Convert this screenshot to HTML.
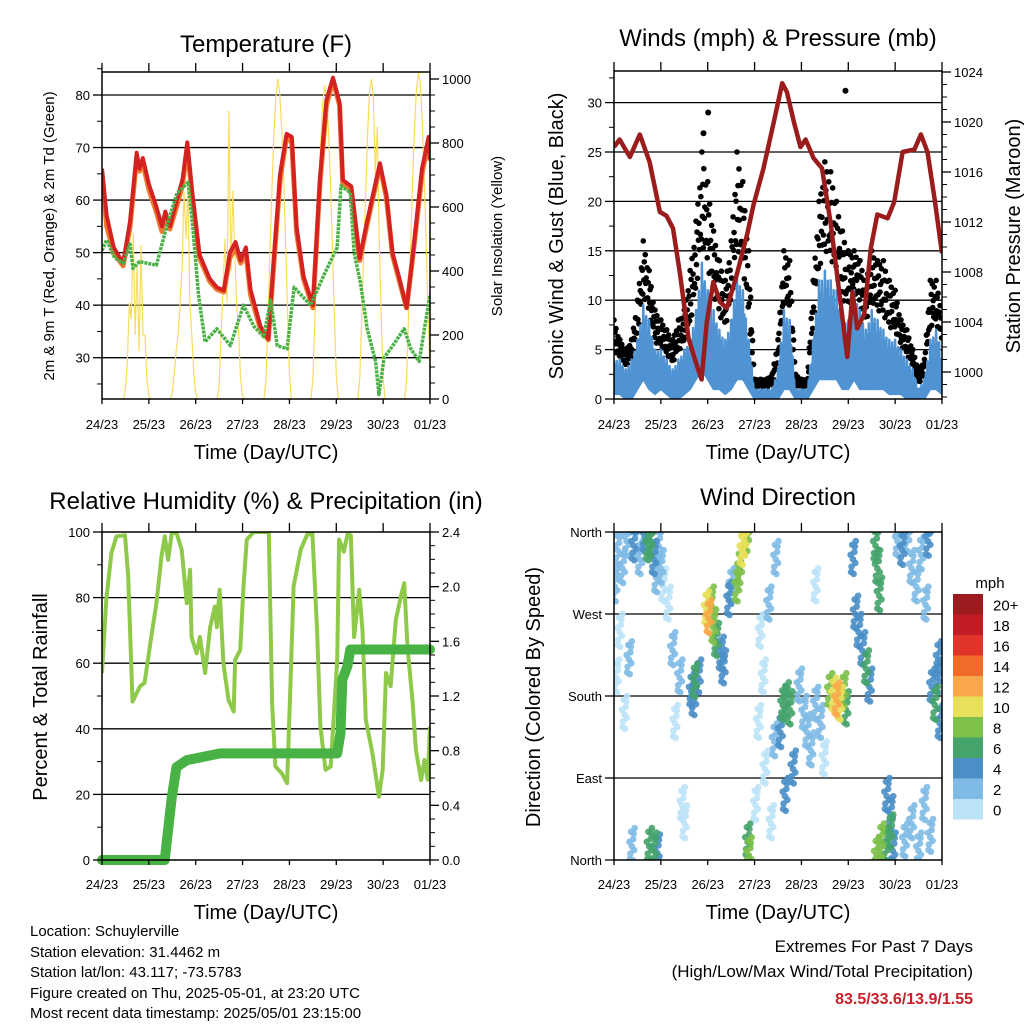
<!DOCTYPE html>
<html><head><meta charset="utf-8"><title>Weather Station Charts</title>
<style>
html,body{margin:0;padding:0;background:#fff;}
svg{display:block;font-family:"Liberation Sans",sans-serif;}
</style></head>
<body>
<svg id="chart" width="1024" height="1024" viewBox="0 0 1024 1024" xmlns="http://www.w3.org/2000/svg">
<rect x="0" y="0" width="1024" height="1024" fill="#fff"/>
<text x="266" y="52" font-size="24" text-anchor="middle">Temperature (F)</text>
<text x="778" y="46" font-size="24" text-anchor="middle">Winds (mph) &amp; Pressure (mb)</text>
<text x="266" y="509" font-size="24" text-anchor="middle">Relative Humidity (%) &amp; Precipitation (in)</text>
<text x="778" y="505" font-size="24" text-anchor="middle">Wind Direction</text>
<text x="266" y="459" font-size="20" text-anchor="middle">Time (Day/UTC)</text>
<text x="778" y="459" font-size="20" text-anchor="middle">Time (Day/UTC)</text>
<text x="266" y="919" font-size="20" text-anchor="middle">Time (Day/UTC)</text>
<text x="778" y="919" font-size="20" text-anchor="middle">Time (Day/UTC)</text>
<text transform="translate(54,236) rotate(-90)" font-size="15" text-anchor="middle">2m &amp; 9m T (Red, Orange) &amp; 2m Td (Green)</text>
<text transform="translate(502,236) rotate(-90)" font-size="15" text-anchor="middle">Solar Insolation (Yellow)</text>
<text transform="translate(563,236) rotate(-90)" font-size="20" text-anchor="middle">Sonic Wind &amp; Gust (Blue, Black)</text>
<text transform="translate(1020,236) rotate(-90)" font-size="20" text-anchor="middle">Station Pressure (Maroon)</text>
<text transform="translate(47,697) rotate(-90)" font-size="20" text-anchor="middle">Percent &amp; Total Rainfall</text>
<text transform="translate(540,697) rotate(-90)" font-size="20" text-anchor="middle">Direction (Colored By Speed)</text>
<g font-size="15">
<text x="30" y="936">Location: Schuylerville</text>
<text x="30" y="957">Station elevation: 31.4462 m</text>
<text x="30" y="977">Station lat/lon: 43.117; -73.5783</text>
<text x="30" y="998">Figure created on Thu, 2025-05-01, at 23:20 UTC</text>
<text x="30" y="1018">Most recent data timestamp: 2025/05/01 23:15:00</text>
</g>
<g font-size="17" text-anchor="end">
<text x="973" y="952">Extremes For Past 7 Days</text>
<text x="973" y="977">(High/Low/Max Wind/Total Precipitation)</text>
<text x="973" y="1004" font-size="16" font-weight="bold" fill="#c8202a">83.5/33.6/13.9/1.55</text>
</g>
<text x="990" y="588" font-size="15" text-anchor="middle">mph</text>
</svg>
<script>
// ---------- data ----------
const dayLabels = ["24/23","25/23","26/23","27/23","28/23","29/23","30/23","01/23"];
const tempT = [0,0.1,0.25,0.45,0.6,0.74,0.8,0.87,1.0,1.15,1.28,1.35,1.45,1.6,1.72,1.82,1.92,2.08,2.3,2.45,2.6,2.73,2.85,2.96,3.07,3.17,3.38,3.55,3.66,3.8,3.94,4.05,4.15,4.3,4.5,4.65,4.79,4.93,5.07,5.14,5.32,5.5,5.65,5.93,6.07,6.2,6.35,6.5,6.65,6.83,6.97,7.0];
const tempRed = [66,57,51,48,56,69,66,68,63,59,55,57.8,55,60,64,71,62,49.6,45,43.4,42.8,50,52,48.5,51,43,36,33.6,48,65,72.6,72,55,45.5,40,64,79,83.3,78.5,63.8,62.6,48.9,55.6,67,61,50,45,39.5,51,66,72,67.8];
const tempOrange = [65,55,50,47.5,55,68,65.5,67,62,58,54,57,54.5,59,63,70,61,49,44.5,43,42.5,49,51,48,50,42,35.5,33.4,47,64,72,71,54,45,39.5,63,78,82.8,78,63,62,48.5,55,66.5,60.5,49.5,44.5,39.5,50.5,65,71.5,67.5];
const dewT = [0,0.1,0.27,0.45,0.6,0.66,0.8,1.16,1.38,1.6,1.84,1.95,2.06,2.2,2.45,2.74,3.02,3.24,3.45,3.6,3.74,3.95,4.1,4.45,4.74,5.02,5.1,5.3,5.38,5.52,5.66,5.84,5.91,6.02,6.16,6.45,6.59,6.77,6.88,7.0];
const dewV = [50.4,52.4,49,48,51.6,47,48.3,47.6,55,61.3,63.4,53.6,42,33,35.5,32.3,40,36,34,41,32.3,31.7,43.4,40,45.8,51,62.7,61.4,50,44,35.5,29.3,23,30,31.7,35.5,31.7,29.3,35.5,42];
const solarHours = [10,11,12,13,14,15,16,17,18,19,20,21,22,23,24];
const solarDay0 = [0,30,120,300,250,520,200,420,150,480,200,200,60,10,0];
const solarDay1 = [0,20,80,150,200,300,400,650,500,660,300,200,80,20,0];
const solarDay2 = [0,40,200,350,500,300,900,400,650,450,300,200,60,10,0];
const solarDay3 = [0,60,250,450,650,820,940,1000,960,850,700,500,280,80,0];
const solarDay4 = [0,60,240,440,640,800,920,980,950,840,680,480,270,70,0];
const solarDay5 = [0,60,250,450,640,820,960,1000,940,700,850,500,260,70,0];
const solarDay6 = [0,60,260,460,660,840,960,1020,990,870,700,500,280,80,0];
const solarDays = [solarDay0,solarDay1,solarDay2,solarDay3,solarDay4,solarDay5,solarDay6];

const presT = [0,0.12,0.34,0.55,0.76,0.98,1.12,1.26,1.41,1.59,1.76,1.87,1.98,2.12,2.26,2.41,2.62,2.84,2.98,3.19,3.41,3.59,3.69,3.84,3.98,4.09,4.26,4.44,4.62,4.84,4.98,5.09,5.19,5.34,5.48,5.62,5.84,5.98,6.16,6.41,6.55,6.69,6.84,7.0];
const presV = [1018,1018.6,1017.2,1019,1016.8,1012.8,1012.5,1011.5,1007.8,1002.7,1000.6,999.4,1004,1007.2,1005.6,1005.1,1007.8,1011,1013.4,1016.3,1020,1023.1,1022.4,1020,1018,1018.6,1017.1,1016.3,1012,1005.4,1001.2,1006.4,1003.5,1004.6,1009.9,1012.6,1012.3,1013.6,1017.6,1017.8,1019,1017.6,1013.9,1009.5];
const windStep = 0.125;
const windHi = [4,4,3,4,6,9.5,8,5,5,4,3,4,5,6,9,13.8,11,9,7,6,8,12.8,11,6,1,1,1,1,3,9,8,1,1,1,6,12,13,12,11,8,8,11,9,7,9,8,7,6,6,5,4,3,1,2,6,7,5];
const windLo = [0.5,0.5,0,0,1,2,1,0.5,1,0.5,0,0,0.5,1,2,3,2,1,1,0.5,1,2,2,1,0,0,0,0,0,1,1,0,0,0,1,2,2,2,2,1,1,2,1,1,1,1,1,0.5,0.5,0.5,0,0,0,0,1,1,0.5];
const gust = [8,6,5,6,10,16,13,9,8,7,6,8,9,13,18,25,22,17,14,12,16,25,22,15,2,2,2,2.5,6,15,14,2.5,2,2,12,20,24,23,20,17,15,15,14,12,15,14,14,12,11,8,7,5,3,4,12,12,9];
const gustOutT = [1.91,2.01,4.94];
const gustOutV = [26.9,29,31.2];

const rhT = [0,0.09,0.2,0.31,0.49,0.56,0.65,0.81,0.91,1.02,1.16,1.27,1.34,1.41,1.49,1.59,1.7,1.81,1.88,1.91,2.02,2.09,2.2,2.31,2.41,2.45,2.51,2.59,2.7,2.81,2.84,2.95,3.02,3.09,3.24,3.56,3.63,3.7,3.84,3.95,4.02,4.09,4.24,4.38,4.49,4.59,4.66,4.77,4.88,5.02,5.06,5.16,5.24,5.31,5.38,5.49,5.56,5.63,5.77,5.91,5.99,6.06,6.16,6.27,6.38,6.45,6.52,6.63,6.7,6.81,6.88,6.95,7.0];
const rhV = [57,79,93.6,98.7,99,86.5,48.3,53,54,65,78.3,92.6,98.7,91.5,99.7,99.7,94.6,78.3,88.5,68,63,68,57,71,77.3,71,82.4,60,48.8,45.3,61,64,83.4,97.7,100,100,47.8,28.5,26.4,23.4,53,83.4,94.6,99.2,99.5,70,40.7,27.5,28.5,61,97.7,94,99.2,99,68,82.4,70,42.7,32.6,19.3,27.5,57,53,73.2,80.4,84.4,65,47.8,33.6,24.4,30.5,24.5,40.7];
const rainT = [0,1.34,1.38,1.49,1.59,1.81,2.52,5.02,5.09,5.1,5.13,5.24,5.3,7.0];
const rainV = [0,0,0.13,0.46,0.68,0.73,0.78,0.78,0.93,1.05,1.32,1.42,1.54,1.54];

const dirT = [0.02,0.05,0.08,0.12,0.18,0.22,0.27,0.32,0.38,0.42,0.55,0.65,0.72,0.78,0.85,0.9,0.95,1.0,1.05,0.75,0.85,0.92,1.15,1.25,1.3,1.4,1.45,1.5,1.65,1.72,1.8,1.7,1.97,2.02,2.07,2.12,2.18,2.28,2.33,2.45,2.5,2.62,2.68,2.73,2.78,2.83,2.88,2.85,3.02,3.08,3.12,3.18,3.22,3.3,3.35,3.42,3.45,3.55,3.6,3.67,3.75,3.82,3.65,3.95,4.05,4.12,4.2,4.3,4.4,4.48,4.3,4.6,4.68,4.75,4.82,4.9,4.95,5.15,5.22,5.3,5.38,5.45,5.1,5.58,5.62,5.66,5.6,5.7,5.8,5.9,5.95,5.82,5.9,6.05,6.15,6.25,6.35,6.45,6.55,6.65,6.7,6.2,6.35,6.5,6.62,6.75,6.78,6.85,6.9,6.95,6.92];
const dirD = [300,200,340,250,320,160,350,220,15,345,330,355,345,350,330,310,345,320,300,15,10,8,280,230,150,200,60,40,185,195,200,175,275,265,280,255,240,225,210,285,300,300,320,340,350,355,5,20,60,150,250,200,100,280,40,130,330,140,170,175,165,100,70,190,160,140,120,170,150,110,300,185,180,175,170,185,165,270,250,230,210,190,330,345,320,290,5,20,15,30,10,70,50,350,340,355,320,300,335,280,350,20,40,10,60,25,190,170,200,150,220];
const dirS = [2,1,3,1,2,1,3,2,2,4,3,4,6,7,4,3,3,2,1,7,6,4,1,2,1,2,1,1,5,6,5,4,10,12,9,8,6,5,4,4,3,8,9,10,11,8,8,7,1,1,1,1,1,2,1,2,2,4,6,7,6,4,4,2,3,2,3,2,3,1,1,9,11,12,10,8,6,5,5,4,6,4,4,7,6,6,8,9,7,6,5,4,4,3,4,2,3,2,3,2,4,3,2,3,2,3,5,6,5,4,4];

const speedColors = ["#bce3f7","#7fbbe6","#4a8fc8","#45a36c","#7dc04a","#e8e05a","#f8a84a","#f26a2a","#e0342a","#c21d24","#9b1b1e"];
const speedLabels = ["0","2","4","6","8","10","12","14","16","18","20+"];
const tempTicks = [30,40,50,60,70,80];
const solarTicks = [0,200,400,600,800,1000];
const windTicks = [0,5,10,15,20,25,30];
const presTicks = [1000,1004,1008,1012,1016,1020,1024];
const rhTicks = [0,20,40,60,80,100];
const rainTicks = ["0.0","0.4","0.8","1.2","1.6","2.0","2.4"];
const dirLabels = ["North","East","South","West","North"];
const dirTickVals = [0,90,180,270,360];

// ---------- helpers ----------
const NS = "http://www.w3.org/2000/svg";
const svg = document.getElementById("chart");
function mk(tag, attrs, parent){
  const e = document.createElementNS(NS, tag);
  for (const k in attrs) e.setAttribute(k, attrs[k]);
  (parent || svg).appendChild(e);
  return e;
}
function linear(d0,d1,r0,r1){ return v => r0 + (v-d0)/(d1-d0)*(r1-r0); }

const P1 = {x0:102,x1:430,y0:72,y1:399};
const P2 = {x0:614,x1:942,y0:71,y1:399};
const P3 = {x0:102,x1:430,y0:532,y1:860};
const P4 = {x0:614,x1:942,y0:532,y1:860};

const x1s = linear(0,7,P1.x0,P1.x1);
const x2s = linear(0,7,P2.x0,P2.x1);
const x3s = linear(0,7,P3.x0,P3.x1);
const x4s = linear(0,7,P4.x0,P4.x1);
const yTemp = linear(80,30,95,357.7);
const ySolar = linear(0,1000,399,79);
const yWind = linear(0,30,399,102.6);
const yPres = linear(1024,1000,72,372);
const yRH = linear(0,100,860,532);
const yRain = linear(0,2.4,860,532);
const yDir = linear(0,360,860,532);

function clip(id,P){
  const cp = mk("clipPath",{id:id});
  mk("rect",{x:P.x0,y:P.y0,width:P.x1-P.x0,height:P.y1-P.y0},cp);
}
clip("c1",P1); clip("c2",P2); clip("c3",P3); clip("c4",P4);

function hgrid(P, yvals, name){
  yvals.forEach(y=>{
    const l = mk("line",{x1:P.x0,x2:P.x1,y1:y,y2:y,stroke:"#000","stroke-width":1.3});
    
    
  });
}
function frameAndTicks(P, xs, labelY, name){
  for (let d=0; d<=7; d+=0.5){
    const x = xs(d);
    const major = Number.isInteger(d);
    const t = mk("line",{x1:x,x2:x,y1:P.y0,y2:P.y0-(major?9:0),stroke:"#000","stroke-width":1.3});
    
    
    const b = mk("line",{x1:x,x2:x,y1:P.y1,y2:P.y1+(major?5:0),stroke:"#000","stroke-width":1.3});
    
    
    if (major){
      const tx = mk("text",{x:x,y:labelY,"font-size":13,"text-anchor":"middle"});
      tx.textContent = dayLabels[d];
      
      
    }
  }
  const f = mk("rect",{x:P.x0,y:P.y0,width:P.x1-P.x0,height:P.y1-P.y0,fill:"none",stroke:"#000","stroke-width":1.5});
  
  
}
function yTicks(P, vals, labels, ys, side, minorVals){
  vals.forEach((v,i)=>{
    const y = ys(v);
    const x = side==="left"?P.x0:P.x1;
    const dx = side==="left"?-9:9;
    const t = mk("line",{x1:x,x2:x+dx,y1:y,y2:y,stroke:"#000","stroke-width":1.3});
    
    
    const tx = mk("text",{x: side==="left"?x-12:x+12, y:y+5,"font-size":13,"text-anchor":side==="left"?"end":"start"});
    tx.textContent = labels[i];
    
    
  });
  (minorVals||[]).forEach(v=>{
    const y = ys(v);
    const x = side==="left"?P.x0:P.x1;
    const dx = side==="left"?-5:5;
    const t = mk("line",{x1:x,x2:x+dx,y1:y,y2:y,stroke:"#000","stroke-width":1});
    
    
  });
}
function pathFrom(ts, vs, xs, ys){
  return ts.map((t,i)=>(i?"L":"M")+xs(t).toFixed(1)+","+ys(vs[i]).toFixed(1)).join("");
}

// ---------- Panel 1: temperature ----------
hgrid(P1, tempTicks.map(yTemp), "temp-gridline");
const g1 = mk("g",{"clip-path":"url(#c1)"});


solarDays.forEach((arr,k)=>{
  const ts = solarHours.map(h=>k+(h+1)/24);
  const p = mk("path",{d:pathFrom(ts,arr,x1s,ySolar),fill:"none",stroke:"#f8dc60","stroke-width":1.2},g1);
  
  
});
const orangeLine = mk("path",{d:pathFrom(tempT,tempOrange,x1s,yTemp),fill:"none",stroke:"#f07a30","stroke-width":5,"stroke-linejoin":"round"},g1);


const redLine = mk("path",{d:pathFrom(tempT,tempRed,x1s,yTemp),fill:"none",stroke:"#d42222","stroke-width":4,"stroke-linejoin":"round"},g1);


const dewLine = mk("path",{d:pathFrom(dewT,dewV,x1s,yTemp),fill:"none",stroke:"#48b044","stroke-width":3.5,"stroke-dasharray":"3 1","stroke-linejoin":"round"},g1);


frameAndTicks(P1, x1s, 429, "temperature-frame");
yTicks(P1, tempTicks, tempTicks.map(String), yTemp, "left", [25,35,45,55,65,75,85]);
yTicks(P1, solarTicks, solarTicks.map(String), ySolar, "right", [50,100,150,250,300,350,450,500,550,650,700,750,850,900,950]);

// ---------- Panel 2: wind & pressure ----------
hgrid(P2, [5,10,15,20,25,30].map(yWind), "wind-gridline");
const g2 = mk("g",{"clip-path":"url(#c2)"});


const wT = windHi.map((v,i)=>i*windStep);
const gustFrac = [1,0.55,0.8,0.35,0.95,0.6,0.7,0.45,0.9,0.5,0.75,0.4];
const NSUB = gustFrac.length;
for (let i=0;i<gust.length-1;i++){
  for (let j=0;j<NSUB;j++){
    const f = j/NSUB;
    const t = wT[i]+f*windStep;
    const gv = gust[i]+(gust[i+1]-gust[i])*f;
    const hv = windHi[i]+(windHi[i+1]-windHi[i])*f;
    const v = hv*0.8 + (gv-hv*0.8)*gustFrac[j];
    const c = mk("circle",{cx:x2s(t),cy:yWind(v),r:2.8,fill:"#000"},g2);
    
    
  }
}
gustOutT.forEach((t,i)=>{
  const c = mk("circle",{cx:x2s(t),cy:yWind(gustOutV[i]),r:3,fill:"#000"},g2);
  
  
});
// jagged wind band: zigzag between low and high within each interval
const zig = [1,0.2,0.85,0.1,0.95,0.35,0.7,0.05];
let zd = "";
for (let i=0;i<wT.length-1;i++){
  for (let j=0;j<zig.length;j++){
    const f = j/zig.length;
    const hv = windHi[i]+(windHi[i+1]-windHi[i])*f;
    const lv = windLo[i]+(windLo[i+1]-windLo[i])*f;
    const v = lv + (hv-lv)*zig[j];
    zd += (zd?"L":"M")+x2s(wT[i]+f*windStep).toFixed(1)+","+yWind(v).toFixed(1);
  }
}
let area = wT.map((t,i)=>(i?"L":"M")+x2s(t).toFixed(1)+","+yWind(windLo[i]+(windHi[i]-windLo[i])*0.45).toFixed(1)).join("");
for (let i=wT.length-1;i>=0;i--) area += "L"+x2s(wT[i]).toFixed(1)+","+yWind(windLo[i]).toFixed(1);
const windArea = mk("path",{d:area+"Z",fill:"#4f93d2",stroke:"#4f93d2","stroke-width":2},g2);


const windZig = mk("path",{d:zd,fill:"none",stroke:"#4f93d2","stroke-width":2.5,"stroke-linejoin":"round"},g2);


const presLine = mk("path",{d:pathFrom(presT,presV,x2s,yPres),fill:"none",stroke:"#9b1c1c","stroke-width":4.5,"stroke-linejoin":"round"},g2);


frameAndTicks(P2, x2s, 429, "wind-frame");
yTicks(P2, windTicks, windTicks.map(String), yWind, "left", [2.5,7.5,12.5,17.5,22.5,27.5,32.5]);
yTicks(P2, presTicks, presTicks.map(String), yPres, "right", [998,999,1001,1002,1003,1005,1006,1007,1009,1010,1011,1013,1014,1015,1017,1018,1019,1021,1022,1023]);

// ---------- Panel 3: humidity & rain ----------
hgrid(P3, [20,40,60,80].map(yRH), "rh-gridline");
const g3 = mk("g",{"clip-path":"url(#c3)"});


const rhLine = mk("path",{d:pathFrom(rhT,rhV,x3s,yRH),fill:"none",stroke:"#8ec94a","stroke-width":4,"stroke-linejoin":"round"},g3);


const rainLine = mk("path",{d:pathFrom(rainT,rainV,x3s,yRain),fill:"none",stroke:"#48b244","stroke-width":10,"stroke-linejoin":"round","stroke-linecap":"round"},svg);


frameAndTicks(P3, x3s, 889, "humidity-frame");
yTicks(P3, rhTicks, rhTicks.map(String), yRH, "left", [10,30,50,70,90]);
yTicks(P3, rainTicks.map(Number), rainTicks, yRain, "right", [0.1,0.2,0.3,0.5,0.6,0.7,0.9,1.0,1.1,1.3,1.4,1.5,1.7,1.8,1.9,2.1,2.2,2.3]);

// ---------- Panel 4: wind direction ----------
hgrid(P4, [90,180,270].map(yDir), "dir-gridline");
const g4 = mk("g",{"clip-path":"url(#c4)"});


const offs = [[0,0],[0.03,8],[-0.03,-8],[0.05,-4],[-0.05,5],[0.015,-16],[-0.015,16],[0.04,14],[-0.04,-14],[0.06,20]];
const order = dirS.map((s,i)=>i).sort((a,b)=>dirS[a]-dirS[b]);
order.forEach(i=>{
  const ci = Math.min(10, Math.max(0, Math.floor(dirS[i]/2)));
  offs.forEach(o=>{
    let dv = dirD[i]+o[1];
    if (dv<0) dv = 0; if (dv>360) dv = 360;
    const c = mk("circle",{cx:x4s(dirT[i]+o[0]),cy:yDir(dv),r:3.3,fill:speedColors[ci],"fill-opacity":0.9},g4);
    
    
  });
});
frameAndTicks(P4, x4s, 889, "wind-direction-frame");
yTicks(P4, dirTickVals, dirLabels, yDir, "left", []);

// colorbar
const cbTop = 594, cbH = 20.5;
speedColors.forEach((c,i)=>{
  const y = cbTop + (10-i)*cbH;
  const r = mk("rect",{x:953,y:y,width:30,height:cbH,fill:c});
  
  
  const t = mk("text",{x:993,y:y+cbH/2+6,"font-size":15});
  t.textContent = speedLabels[i];
  
  
});
</script>
</body></html>
